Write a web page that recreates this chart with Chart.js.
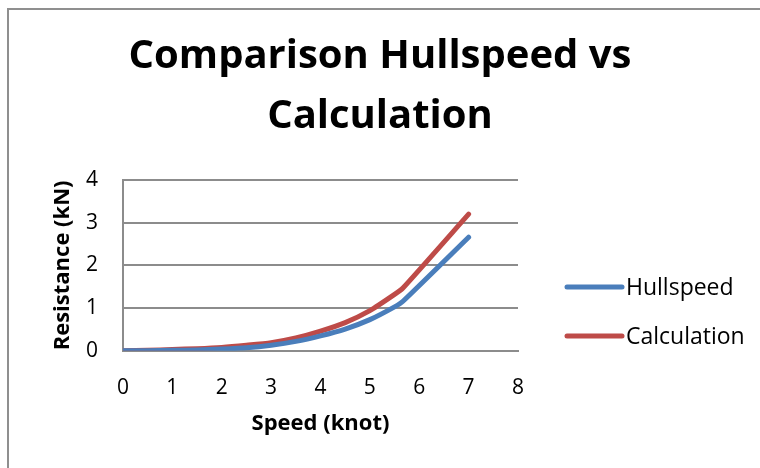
<!DOCTYPE html>
<html>
<head>
<meta charset="utf-8">
<script src="https://cdn.jsdelivr.net/npm/chart.js@4"></script>
<style>
    body { margin: 0; background: #fff; }
    #wrap { position: relative; width: 760px; height: 468px; overflow: hidden; }
    #frame { position: absolute; left: 7px; top: 8px; width: 800px; height: 520px; border: 2px solid #8f8f8f; }
    #chart { position: absolute; left: 0; top: 0; }
</style>
</head>
<body>
<div id="wrap">
    <div id="frame"></div>
    <canvas id="chart" width="760" height="468"></canvas>
</div>
<script>
// Speed (knot)
const speeds = [0, 0.5, 1, 1.5, 2, 2.5, 3, 3.5, 4, 4.5, 5, 5.5, 5.67, 7];
// Resistance (kN)
const hullspeedValues = [0, 0, 0.01, 0.02, 0.04, 0.07, 0.13, 0.22, 0.35, 0.51, 0.73, 1.03, 1.16, 2.66];
const calculationValues = [0, 0.01, 0.03, 0.05, 0.08, 0.13, 0.19, 0.3, 0.46, 0.66, 0.94, 1.32, 1.47, 3.2];
const xTicks = [0, 1, 2, 3, 4, 5, 6, 7, 8];
const yTicks = [0, 1, 2, 3, 4];

const titleLines = ['Comparison Hullspeed vs', 'Calculation'];
const fontFamily = '"Open Sans", "Noto Sans", sans-serif';
const gridColor = '#8c8c8c';

function toPoints(xs, ys) {
    return xs.map((x, i) => ({ x: x, y: ys[i] }));
}

// legend drawn by hand, the built-in one cuts the labels short
const sideLegend = {
    id: 'sideLegend',
    afterDraw(chart) {
        const ctx = chart.ctx;
        const left = 567;
        const top = 287;
        const gap = 49;
        ctx.save();
        ctx.font = '23px ' + fontFamily;
        ctx.textBaseline = 'middle';
        ctx.fillStyle = '#000';
        chart.data.datasets.forEach((ds, i) => {
            const y = top + i * gap;
            ctx.beginPath();
            ctx.lineWidth = ds.borderWidth;
            ctx.lineCap = 'round';
            ctx.strokeStyle = ds.borderColor;
            ctx.moveTo(left, y);
            ctx.lineTo(left + 55, y);
            ctx.stroke();
            ctx.fillText(ds.label, left + 59, y + 1);
        });
        ctx.restore();
    }
};

new Chart(document.getElementById('chart'), {
    type: 'line',
    data: {
        datasets: [
            {
                label: 'Hullspeed',
                data: toPoints(speeds, hullspeedValues),
                borderColor: '#4a7ebb',
                backgroundColor: '#4a7ebb',
                borderWidth: 5,
                borderCapStyle: 'round',
                borderJoinStyle: 'round',
                pointRadius: 0,
                tension: 0.2
            },
            {
                label: 'Calculation',
                data: toPoints(speeds, calculationValues),
                borderColor: '#be4b48',
                backgroundColor: '#be4b48',
                borderWidth: 5,
                borderCapStyle: 'round',
                borderJoinStyle: 'round',
                pointRadius: 0,
                tension: 0.2
            }
        ]
    },
    options: {
        responsive: false,
        animation: false,
        devicePixelRatio: 1,
        layout: { padding: { left: 0, right: 0, top: 0, bottom: 33 } },
        plugins: {
            title: {
                display: true,
                text: titleLines,
                color: '#000',
                font: { family: fontFamily, size: 40, weight: 'bold', lineHeight: 1.5 },
                padding: { top: 27, bottom: 33 }
            },
            legend: { display: false },
            tooltip: { enabled: false }
        },
        scales: {
            x: {
                type: 'linear',
                min: 0,
                max: 8,
                afterBuildTicks: scale => { scale.ticks = xTicks.map(v => ({ value: v })); },
                grid: { display: false },
                border: { display: true, color: gridColor, width: 2 },
                ticks: { color: '#000', font: { family: fontFamily, size: 21 }, padding: 17 },
                title: {
                    display: true,
                    text: 'Speed (knot)',
                    color: '#000',
                    font: { family: fontFamily, size: 22, weight: 'bold', lineHeight: 1 },
                    padding: { top: -5, bottom: 0 }
                }
            },
            y: {
                min: 0,
                max: 4,
                afterBuildTicks: scale => { scale.ticks = yTicks.map(v => ({ value: v })); },
                afterFit: scale => { scale.width = 123; },
                grid: { color: gridColor, lineWidth: 2, drawTicks: false },
                border: { display: true, color: gridColor, width: 2 },
                ticks: { color: '#000', font: { family: fontFamily, size: 21 }, padding: 25 },
                title: {
                    display: true,
                    text: 'Resistance (kN)',
                    color: '#000',
                    font: { family: fontFamily, size: 22, weight: 'bold' },
                    padding: { top: 50, bottom: 4 }
                }
            },
            // empty side axis that keeps room for the legend
            legendRoom: {
                type: 'linear',
                position: 'right',
                afterFit: scale => { scale.width = 242; },
                grid: { display: false },
                border: { display: false },
                ticks: { display: false }
            }
        }
    },
    plugins: [sideLegend]
});
</script>
</body>
</html>
